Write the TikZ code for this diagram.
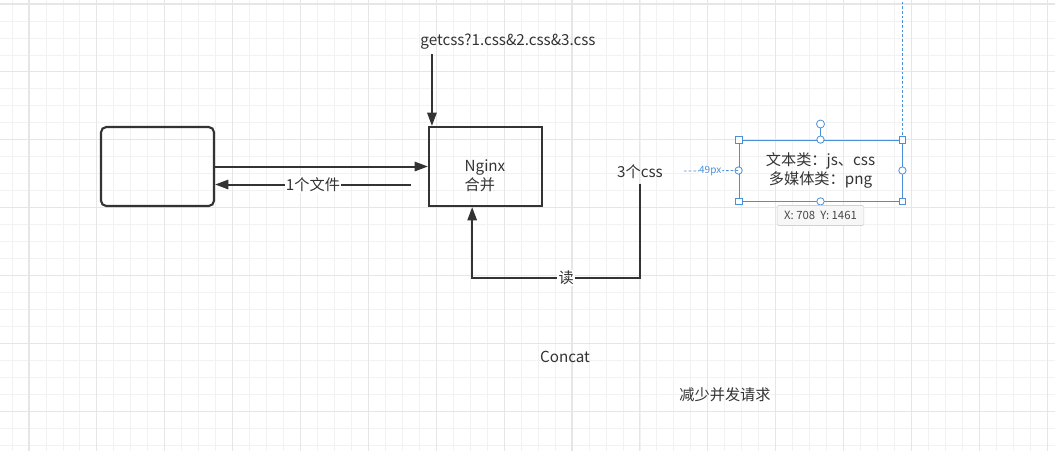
\documentclass[tikz,border=0pt]{standalone}
\usepackage{fontspec}
\setmainfont{Noto Sans CJK SC}
\usetikzlibrary{arrows.meta,calc}

\definecolor{ink}{HTML}{333333}
\definecolor{selblue}{HTML}{4A90D9}
\definecolor{gridminor}{HTML}{F2F2F2}
\definecolor{gridmajor}{HTML}{E6E6E6}

\tikzset{
	box/.style={draw=ink, line width=1.6pt, minimum width=84.75pt, minimum height=59.25pt},
	arr/.style={draw=ink, line width=1.5pt, -{Triangle[length=10pt,width=7pt]}},
	lbl/.style={text=ink, font=\fontsize{11.4pt}{14pt}\selectfont},
	handle/.style={draw=selblue, fill=white, line width=0.6pt, minimum size=5pt, inner sep=0pt},
	knob/.style={handle, circle, minimum size=6pt}
}

\begin{document}
\begin{tikzpicture}[x=0.75pt, y=-0.75pt]
		\useasboundingbox (0,0) rectangle (1055,451);
		\fill[white] (0,0) rectangle (1055,451);

		% grid
		\foreach \i in {0,...,61} {
			\draw[gridminor, line width=0.6pt] ({12+16.97*\i},0) -- ({12+16.97*\i},451);
		}
		\foreach \j in {0,...,26} {
			\draw[gridminor, line width=0.6pt] (0,{4+16.97*\j}) -- (1055,{4+16.97*\j});
		}
		\foreach \i in {0,...,15} {
			\draw[gridmajor, line width=0.8pt] ({28.97+67.88*\i},0) -- ({28.97+67.88*\i},451);
		}
		\foreach \j in {0,...,6} {
			\draw[gridmajor, line width=0.8pt] (0,{4+67.88*\j}) -- (1055,{4+67.88*\j});
		}

		\node[box, rounded corners=4pt] (client) at (157.5,166.5) {};
		\node[box] (nginx) at (485.5,166.5) {};
		\node[lbl, align=left, anchor=west] (nginxtxt) at (460,176) {Nginx\\合并};

		\node[lbl] (req) at (508,42) {getcss?1.css\&2.css\&3.css};
		\node[lbl] (css3) at (640,172) {3个css};
		\node[lbl] (concat) at (565,357) {Concat};
		\node[lbl] (less) at (725,395) {减少并发请求};

		\coordinate (topin) at ([xshift=3pt]nginx.north west);
		\coordinate (backfrom) at ([shift={(-17,18)}]nginx.west);
		\coordinate (nginxin) at ([xshift=-10pt]nginx.south);
		\coordinate (turnr) at (640,278);
		\coordinate (turnl) at (nginxin |- turnr);

		\draw[arr] (req.south -| topin) -- (topin);
		\draw[arr] (client.east) -- (nginx.west);
		\draw[arr] (backfrom) -- (backfrom -| client.east)
			node[lbl, midway, fill=white, inner sep=1pt] {1个文件};
		\draw[arr] (css3.south) -- (turnr) -- (turnl)
			node[lbl, pos=0.44, fill=white, inner sep=1pt] {读} -- (nginxin);

		% selected shape
		\node[lbl, draw=selblue, line width=0.6pt, minimum width=122.25pt, minimum height=45.75pt, align=center] (types) at (820.5,170.5) {文本类：js、css\\多媒体类：png};
		\draw[selblue, line width=0.6pt, dash pattern=on 2pt off 1.5pt] (types.north east) -- (types.north east |- 0,0);
		\node[knob] (rot) at (820.5,124) {};
		\draw[selblue, line width=0.6pt] (rot) -- (types.north);
		\foreach \a in {north west,north east,south west,south east} {
			\node[handle] at (types.\a) {};
		}
		\foreach \a in {north,south,west,east} {
			\node[knob, minimum size=5.5pt] at (types.\a) {};
		}
		\coordinate (guide) at (684,171);
		\draw[selblue, line width=0.6pt, dash pattern=on 2pt off 1.5pt] (guide) -- (types.west)
			node[pos=0.48, fill=white, inner sep=0.5pt, text=selblue, font=\fontsize{7.5pt}{8pt}\selectfont] {49px};
		\node[draw=gray!35, fill=gray!6, rounded corners=1pt, text=ink!90, font=\fontsize{8.5pt}{9pt}\selectfont, minimum width=65pt, minimum height=15pt] (tip) at (820.5,215.5) {X: 708\ \ Y: 1461};
	\end{tikzpicture}
\end{document}
